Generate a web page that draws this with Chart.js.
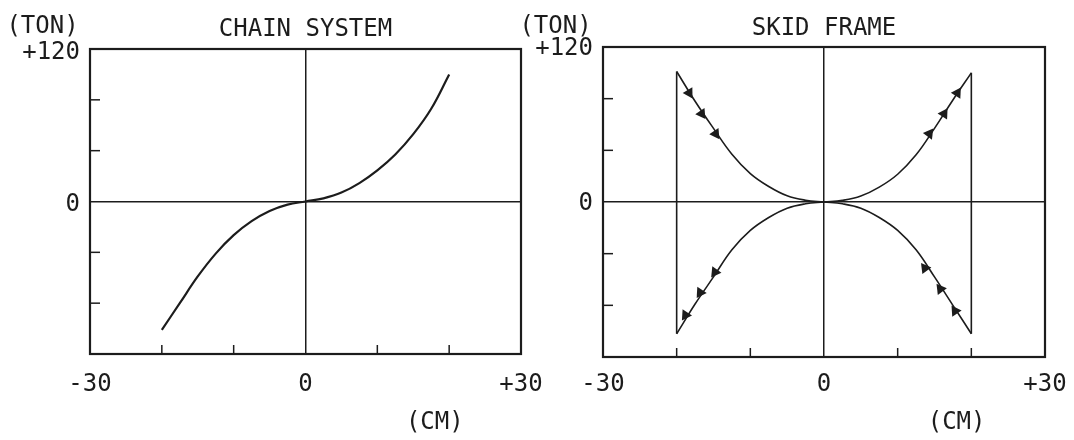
<!DOCTYPE html>
<html>
<head>
<meta charset="utf-8">
<script src="https://cdn.jsdelivr.net/npm/chart.js@4.4.1/dist/chart.umd.min.js"></script>
<style>
  html, body { margin: 0; padding: 0; background: #fff; }
  body { width: 1074px; height: 440px; position: relative; overflow: hidden; }
  .box { position: absolute; top: 0; height: 440px; }
  #leftBox { left: 0; width: 560px; }
  #rightBox { left: 500px; width: 574px; }
</style>
</head>
<body>
<div class="box" id="leftBox"><canvas id="chainChart"></canvas></div>
<div class="box" id="rightBox"><canvas id="skidChart"></canvas></div>
<script>
// tick labels
const xTickValues = [-30, 0, 30];
const xTickText = ['-30', '0', '+30'];
const yTickValues = [120, 0];
const yTickText = ['+120', '0'];

// chain system curve (cm, ton)
const chainX = [-20, -17.5, -15, -12.5, -10, -7.5, -5, -2.5, 0, 2.5, 5, 7.5, 10, 12.5, 15, 17.5, 20];
const chainY = [-101, -80, -59, -41, -26.5, -15.5, -7.5, -2.5, 0, 2.5, 7, 14.5, 24.5, 37, 53, 73, 100];

// skid frame loop, each branch read from origin outwards
const skidPosX = [0, 2.5, 5, 7.5, 10, 12.5, 15, 17.5, 20];
const skidNegX = [0, -2.5, -5, -7.5, -10, -12.5, -15, -17.5, -20];
const skidUpperRight = [0, 1.3, 4.6, 11.5, 21.5, 36.5, 57, 79, 100];
const skidUpperLeft = [0, 1.4, 4.8, 12, 22, 37, 57, 78, 101];
const skidLowerRight = [0, -1.4, -4.8, -12, -22, -37, -58, -80, -102];
const skidLowerLeft = [0, -1.4, -4.8, -12, -22, -37, -58, -79, -102];
const skidRightEdgeX = [20, 20];
const skidRightEdgeY = [100, -102];
const skidLeftEdgeX = [-20, -20];
const skidLeftEdgeY = [-102, 101];

// arrow heads, listed in the direction of travel
const arrowULx = [-18.3, -16.6, -14.7], arrowULy = [84.4, 68.3, 52.8];
const arrowURx = [14.3, 16.3, 18.1], arrowURy = [52.8, 68.3, 84.4];
const arrowLRx = [17.8, 15.8, 13.7], arrowLRy = [-84.4, -67.3, -51.2];
const arrowLLx = [-14.8, -16.8, -18.8], arrowLLy = [-54.3, -70.1, -87.5];

const FONT = "'DejaVu Sans Mono', monospace";
const INK = '#1c1c1c';

function pts(xs, ys) {
  return xs.map((x, i) => ({ x: x, y: ys[i] }));
}

function lineSet(xs, ys, width) {
  return {
    data: pts(xs, ys), showLine: true, borderColor: INK, borderWidth: width,
    pointRadius: 0, tension: 0.4, fill: false
  };
}

function arrowRotation(ctx) {
  if (ctx.dataIndex === undefined) return 0;
  const d = ctx.dataset.data;
  const i = Math.min(ctx.dataIndex, d.length - 2);
  const sx = ctx.chart.scales.x, sy = ctx.chart.scales.y;
  const dx = sx.getPixelForValue(d[i + 1].x) - sx.getPixelForValue(d[i].x);
  const dy = sy.getPixelForValue(d[i + 1].y) - sy.getPixelForValue(d[i].y);
  return Math.atan2(dy, dx) * 180 / Math.PI + 90;
}

function arrowSet(xs, ys) {
  return {
    data: pts(xs, ys), showLine: false, pointStyle: 'triangle', pointRadius: 6.5,
    pointBackgroundColor: INK, pointBorderColor: INK, pointBorderWidth: 0,
    pointRotation: arrowRotation
  };
}

// box round the plot, inward ticks, unit labels
const framePlugin = {
  id: 'frame',
  afterDraw(chart, args, opts) {
    const c = chart.ctx, a = chart.chartArea;
    const sx = chart.scales.x, sy = chart.scales.y;
    c.save();
    c.strokeStyle = INK;
    c.lineWidth = 1.5;
    sx.ticks.forEach(t => {
      if (t.value === 0 || t.value === sx.min || t.value === sx.max) return;
      const px = sx.getPixelForValue(t.value);
      c.beginPath(); c.moveTo(px, a.bottom); c.lineTo(px, a.bottom - 9); c.stroke();
    });
    sy.ticks.forEach(t => {
      if (t.value === 0 || t.value === sy.min || t.value === sy.max) return;
      const py = sy.getPixelForValue(t.value);
      c.beginPath(); c.moveTo(a.left, py); c.lineTo(a.left + 10, py); c.stroke();
    });
    c.lineWidth = 2.2;
    c.strokeRect(a.left, a.top, a.right - a.left, a.bottom - a.top);
    c.fillStyle = INK;
    c.font = '24px ' + FONT;
    c.textAlign = 'center';
    c.textBaseline = 'middle';
    c.fillText('(TON)', a.left - 47.5, 27);
    c.fillText('(CM)', sx.getPixelForValue(opts.cmAt), 423);
    c.restore();
  }
};

function makeChart(id, title, datasets, area) {
  return new Chart(document.getElementById(id), {
    type: 'scatter',
    data: { datasets: datasets },
    plugins: [framePlugin],
    options: {
      responsive: true,
      maintainAspectRatio: false,
      animation: false,
      layout: { padding: { left: 0, right: area.padRight, top: 0, bottom: 0 } },
      plugins: {
        legend: { display: false },
        tooltip: { enabled: false },
        title: {
          display: true, text: title, color: INK, fullSize: false,
          font: { family: FONT, size: 24, weight: 'normal' },
          padding: { top: area.titleTop, bottom: area.top - area.titleTop - 28.8 }
        },
        frame: { cmAt: 18 }
      },
      scales: {
        x: {
          type: 'linear', min: -30, max: 30,
          border: { display: false },
          grid: {
            drawTicks: false, lineWidth: 1.5,
            color: c => (c.tick && c.tick.value === 0 ? INK : 'rgba(0,0,0,0)')
          },
          ticks: {
            stepSize: 10, autoSkip: false, maxRotation: 0, padding: area.xPad, color: INK,
            font: { family: FONT, size: 24 },
            callback: v => (xTickValues.indexOf(v) >= 0 ? xTickText[xTickValues.indexOf(v)] : '')
          },
          afterFit: s => { s.height = area.xHeight; s.paddingLeft = 0; s.paddingRight = 0; }
        },
        y: {
          type: 'linear', min: -120, max: 120,
          border: { display: false },
          grid: {
            drawTicks: false, lineWidth: 1.5,
            color: c => (c.tick && c.tick.value === 0 ? INK : 'rgba(0,0,0,0)')
          },
          ticks: {
            stepSize: 40, autoSkip: false, padding: 10, color: INK, labelOffset: area.yShift,
            font: { family: FONT, size: 24 },
            callback: v => (yTickValues.indexOf(v) >= 0 ? yTickText[yTickValues.indexOf(v)] : '')
          },
          afterFit: s => { s.width = area.yWidth; s.paddingTop = 0; s.paddingBottom = 0; }
        }
      }
    }
  });
}

makeChart('chainChart', 'CHAIN SYSTEM', [
  lineSet(chainX, chainY, 2.2)
], { padRight: 39, top: 49, titleTop: 15, yWidth: 90, xHeight: 86, xPad: 16, yShift: 3.5 });

makeChart('skidChart', 'SKID FRAME', [
  lineSet(skidPosX, skidUpperRight, 1.6),
  lineSet(skidPosX, skidLowerRight, 1.6),
  lineSet(skidNegX, skidUpperLeft, 1.6),
  lineSet(skidNegX, skidLowerLeft, 1.6),
  lineSet(skidRightEdgeX, skidRightEdgeY, 1.6),
  lineSet(skidLeftEdgeX, skidLeftEdgeY, 1.6),
  arrowSet(arrowULx, arrowULy),
  arrowSet(arrowURx, arrowURy),
  arrowSet(arrowLRx, arrowLRy),
  arrowSet(arrowLLx, arrowLLy)
], { padRight: 29, top: 47, titleTop: 14, yWidth: 103, xHeight: 83, xPad: 13, yShift: 2 });
</script>
</body>
</html>
